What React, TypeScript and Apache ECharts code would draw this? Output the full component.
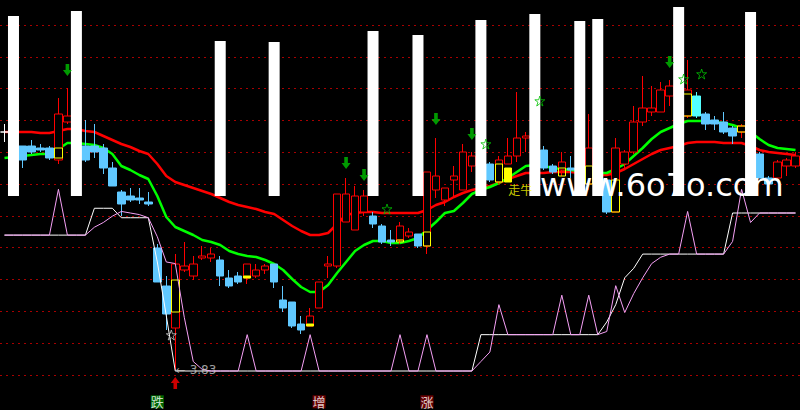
import React, { useEffect, useRef } from "react";
import * as echarts from "echarts";

// daily k-line: open, close, lowest, highest
const candles = [
  [5.02, 5.02, 4.97, 5.06], [4.98, 4.93, 4.92, 5.0], [4.95, 4.88, 4.84, 4.95], [4.95, 4.92, 4.91, 4.98],
  [4.94, 4.93, 4.92, 4.96], [4.94, 4.89, 4.88, 4.95], [4.88, 5.11, 4.86, 5.19], [5.07, 5.1, 5.06, 5.24],
  [5.09, 4.98, 4.96, 5.13], [4.95, 4.88, 4.87, 5.08], [4.95, 4.92, 4.89, 5.06], [4.94, 4.84, 4.81, 4.96],
  [4.84, 4.75, 4.75, 4.87], [4.72, 4.66, 4.6, 4.73], [4.7, 4.68, 4.67, 4.74], [4.69, 4.68, 4.66, 4.74],
  [4.67, 4.66, 4.65, 4.72], [4.44, 4.27, 4.27, 4.46], [4.25, 4.11, 4.03, 4.3], [4.04, 4.36, 3.83, 4.41],
  [4.33, 4.35, 4.32, 4.47], [4.3, 4.36, 4.28, 4.4], [4.39, 4.4, 4.38, 4.45], [4.39, 4.41, 4.37, 4.44],
  [4.38, 4.3, 4.25, 4.4], [4.29, 4.25, 4.24, 4.33], [4.3, 4.27, 4.26, 4.32], [4.29, 4.36, 4.26, 4.36],
  [4.3, 4.33, 4.29, 4.36], [4.33, 4.35, 4.31, 4.36], [4.36, 4.27, 4.24, 4.36], [4.18, 4.14, 4.12, 4.25],
  [4.17, 4.05, 4.04, 4.17], [4.06, 4.03, 4.01, 4.1], [4.05, 4.1, 4.05, 4.14], [4.14, 4.27, 4.14, 4.27],
  [4.35, 4.36, 4.29, 4.4], [4.35, 4.71, 4.34, 4.71], [4.57, 4.71, 4.57, 4.79], [4.53, 4.7, 4.53, 4.75],
  [4.62, 4.7, 4.6, 4.73], [4.6, 4.56, 4.54, 4.62], [4.55, 4.47, 4.46, 4.56], [4.48, 4.47, 4.45, 4.53],
  [4.48, 4.55, 4.46, 4.57], [4.5, 4.52, 4.49, 4.54], [4.51, 4.45, 4.44, 4.51], [4.45, 4.82, 4.41, 4.82],
  [4.73, 4.8, 4.69, 4.99], [4.68, 4.74, 4.65, 4.74], [4.78, 4.8, 4.69, 4.85], [4.73, 4.92, 4.73, 4.96],
  [4.85, 4.9, 4.82, 4.92], [4.83, 4.75, 4.73, 4.86], [4.86, 4.78, 4.77, 4.87], [4.77, 4.88, 4.76, 4.9],
  [4.86, 4.9, 4.86, 4.99], [4.9, 4.99, 4.87, 5.22], [4.99, 5.0, 4.92, 5.02], [4.93, 4.98, 4.92, 5.01],
  [4.93, 4.84, 4.83, 4.95], [4.85, 4.82, 4.81, 4.86], [4.83, 4.87, 4.8, 4.92], [4.84, 4.83, 4.79, 4.9],
  [4.88, 4.83, 4.8, 4.91], [4.76, 4.94, 4.73, 5.11], [4.88, 4.79, 4.75, 4.9], [4.78, 4.62, 4.61, 4.79],
  [4.62, 4.94, 4.62, 4.99], [4.86, 4.92, 4.83, 4.93], [4.92, 5.07, 4.91, 5.15], [5.07, 5.14, 5.05, 5.3],
  [5.12, 5.14, 5.1, 5.25], [5.12, 5.23, 5.12, 5.27], [5.2, 5.25, 5.15, 5.28], [5.21, 5.1, 5.08, 5.23],
  [5.1, 5.23, 5.09, 5.38], [5.2, 5.1, 5.09, 5.22], [5.11, 5.06, 5.03, 5.12], [5.08, 5.06, 5.03, 5.1],
  [5.07, 5.02, 5.01, 5.12], [5.04, 5.0, 4.96, 5.05], [5.02, 5.05, 4.99, 5.06], [5.0, 4.93, 4.9, 5.03],
  [4.91, 4.79, 4.79, 4.92], [4.79, 4.76, 4.73, 4.8], [4.79, 4.87, 4.78, 4.88], [4.85, 4.88, 4.8, 4.89],
  [4.85, 4.9, 4.84, 4.92],
];

const maSlow = [
  5.02, 5.02, 5.02, 5.02, 5.015, 5.015, 5.025, 5.035, 5.035, 5.025,
  5.02, 5.0, 4.98, 4.96, 4.945, 4.925, 4.91, 4.86, 4.8, 4.77,
  4.755, 4.74, 4.725, 4.71, 4.69, 4.67, 4.655, 4.645, 4.635, 4.62,
  4.61, 4.58, 4.55, 4.525, 4.505, 4.505, 4.515, 4.56, 4.605, 4.615,
  4.62, 4.62, 4.615, 4.615, 4.615, 4.615, 4.615, 4.63, 4.655, 4.67,
  4.695, 4.715, 4.73, 4.74, 4.75, 4.765, 4.785, 4.8, 4.815, 4.815,
  4.815, 4.82, 4.82, 4.82, 4.815, 4.81, 4.805, 4.805, 4.815, 4.835,
  4.86, 4.885, 4.91, 4.93, 4.94, 4.95, 4.965, 4.97, 4.97, 4.97,
  4.965, 4.965, 4.965, 4.95, 4.93, 4.92, 4.915, 4.91, 4.905,
];

const maFast = [
  4.89, 4.895, 4.9, 4.905, 4.91, 4.91, 4.935, 4.965, 4.965, 4.96,
  4.955, 4.94, 4.91, 4.85, 4.83, 4.805, 4.785, 4.7, 4.595, 4.545,
  4.525, 4.505, 4.48, 4.47, 4.455, 4.425, 4.41, 4.4, 4.395, 4.38,
  4.36, 4.33, 4.285, 4.245, 4.22, 4.22, 4.255, 4.315, 4.37, 4.425,
  4.455, 4.475, 4.475, 4.465, 4.465, 4.475, 4.49, 4.53, 4.57, 4.615,
  4.625, 4.665, 4.71, 4.73, 4.745, 4.765, 4.79, 4.82, 4.85, 4.855,
  4.85, 4.84, 4.835, 4.83, 4.825, 4.82, 4.815, 4.815, 4.835, 4.86,
  4.9, 4.94, 4.985, 5.02, 5.04, 5.06, 5.075, 5.075, 5.075, 5.07,
  5.065, 5.055, 5.04, 5.02, 4.985, 4.955, 4.94, 4.935, 4.93,
];

// lower indicator (0..100 scale)
const trendWhite = [
  86, 86, 86, 86, 86, 86, 86, 86, 86, 86,
  103, 103, 103, 97, 97, 97, 97, 69, 35, 0,
  0, 0, 0, 0, 0, 0, 0, 0, 0, 0,
  0, 0, 0, 0, 0, 0, 0, 0, 0, 0,
  0, 0, 0, 0, 0, 0, 0, 0, 0, 0,
  0, 0, 0, 23, 23, 23, 23, 23, 23, 23,
  23, 23, 23, 23, 23, 23, 23, 31, 42, 59,
  65, 74, 74, 74, 74, 74, 74, 74, 74, 74,
  74, 100, 100, 100, 100, 100, 100, 100, 100,
];

const trendPink = [
  86, 86, 86, 86, 86, 86, 115, 86, 86, 86,
  91, 94, 98, 101, 100, 99, 97, 85, 69, 68,
  34, 6, 1, 0, 0, 0, 0, 23, 0, 0,
  0, 0, 0, 0, 23, 0, 0, 0, 0, 0,
  0, 0, 0, 0, 23, 0, 0, 23, 0, 0,
  0, 0, 0, 6, 12, 42, 23, 23, 23, 23,
  23, 23, 48, 23, 23, 48, 23, 25, 54, 37,
  49, 59, 68, 72, 74, 74, 101, 74, 74, 74,
  74, 82, 115, 94, 100, 100, 100, 100, 100,
];

const barDays = [1, 8, 24, 30, 41, 46, 53, 59, 64, 66, 75, 83];
const barHeights = [94.7, 97.4, 81.6, 81.1, 86.8, 84.7, 92.6, 95.8, 92.1, 93.2, 99.5, 96.8];

const boxDays = [6, 19, 27, 34, 44, 47, 55, 56, 62, 65, 68, 76, 82];
const boxLow = [4.89, 4.12, 4.29, 4.05, 4.47, 4.45, 4.77, 4.77, 4.8, 4.76, 4.62, 5.1, 5.02];
const boxHigh = [4.94, 4.28, 4.3, 4.06, 4.48, 4.52, 4.86, 4.84, 4.84, 4.85, 4.78, 5.21, 5.05];
const solidBoxDays = [27, 34, 56];

const sellDays = [7, 38, 40, 48, 52, 74];
const sellLevel = [5.33, 4.865, 4.805, 5.085, 5.01, 5.37];
const buyDays = [19];
const buyLevel = [3.765];

const starDays = [18, 42, 53, 59, 75, 77];
const starLevel = [4.005, 4.635, 4.96, 5.175, 5.285, 5.31];

const signalDays = [17, 35, 47];
const signalText = ["跌", "增", "涨"];
const signalLevel = 3.671;

const brightDays = [77];
const lowDay = 19;
const lowPrice = 3.83;
const bullDay = 56;
const bullLevel = 4.735;
const bullText = "走牛";

const days = candles.map((_, i) => `D${i + 1}`);

const arrowPath = "path://M3,0L7,0L7,6L10,6L5,12L0,6L3,6Z";
const starPath =
  "path://M5,0L6.2,3.6L10,3.6L6.9,5.9L8.1,9.5L5,7.3L1.9,9.5L3.1,5.9L0,3.6L3.8,3.6Z";

const App: React.FC = () => {
  const chartRef = useRef<HTMLDivElement>(null);

  useEffect(() => {
    if (!chartRef.current) return;
    document.body.style.background = "#000";
    const chart = echarts.init(chartRef.current, null, { renderer: "svg" });

    const option = {
      animation: false,
      backgroundColor: "#000",
      textStyle: { fontFamily: "DejaVu Sans" },
      grid: [
        { left: 0, right: 0, top: 25, bottom: 35 },
        { left: -2, right: -2, top: 0, bottom: 0 },
      ],
      xAxis: [
        { gridIndex: 0, type: "value", min: 0, max: 1, show: false },
        { gridIndex: 1, type: "category", data: days, show: false },
      ],
      yAxis: [
        {
          gridIndex: 0,
          type: "value",
          min: 0,
          max: 11,
          interval: 1,
          axisLine: { show: false },
          axisTick: { show: false },
          axisLabel: { show: false },
          splitLine: { show: true, lineStyle: { color: "#a80000", type: [2, 4], width: 1 } },
        },
        { gridIndex: 1, type: "value", min: 3.63, max: 5.68, show: false },
        { gridIndex: 1, type: "value", min: -24.68, max: 234.81, show: false },
        { gridIndex: 1, type: "value", min: -112.63, max: 103.16, show: false },
      ],
      graphic: [
        {
          type: "text",
          x: 540,
          y: 185,
          z: 100,
          style: {
            text: "www.6o7o.com",
            fill: "#fff",
            fontSize: 32,
            fontFamily: "DejaVu Sans",
            verticalAlign: "middle",
          },
        },
      ],
      series: [
        {
          name: "MA slow",
          type: "line",
          xAxisIndex: 1,
          yAxisIndex: 1,
          data: maSlow,
          symbol: "none",
          lineStyle: { color: "#ff0000", width: 2.5 },
          z: 2,
        },
        {
          name: "MA fast",
          type: "line",
          xAxisIndex: 1,
          yAxisIndex: 1,
          data: maFast,
          symbol: "none",
          lineStyle: { color: "#00ff00", width: 2.5 },
          z: 2,
        },
        {
          name: "K",
          type: "candlestick",
          xAxisIndex: 1,
          yAxisIndex: 1,
          barWidth: 8,
          data: candles.map((c, i) =>
            brightDays.includes(i)
              ? { value: c, itemStyle: { color0: "#54ffff", borderColor0: "#54ffff" } }
              : c
          ),
          itemStyle: {
            color: "#000",
            color0: "#60c8ff",
            borderColor: "#ff0000",
            borderColor0: "#60c8ff",
            borderColorDoji: "#ffffff",
            borderWidth: 1,
          },
          z: 3,
        },
        {
          name: "box",
          type: "candlestick",
          xAxisIndex: 1,
          yAxisIndex: 1,
          barWidth: 8,
          encode: { x: 0, y: [1, 2, 3, 4] },
          data: boxDays.map((d, i) => {
            const v = [d, boxLow[i], boxHigh[i], boxLow[i], boxHigh[i]];
            return solidBoxDays.includes(d) ? { value: v, itemStyle: { color: "#ffff00" } } : v;
          }),
          itemStyle: {
            color: "rgba(0,0,0,0)",
            borderColor: "#ffff00",
            color0: "rgba(0,0,0,0)",
            borderColor0: "#ffff00",
            borderWidth: 1,
          },
          z: 4,
        },
        {
          name: "trend",
          type: "line",
          xAxisIndex: 1,
          yAxisIndex: 2,
          data: trendWhite,
          symbol: "none",
          lineStyle: { color: "#ffffff", width: 1 },
          z: 5,
        },
        {
          name: "trend2",
          type: "line",
          xAxisIndex: 1,
          yAxisIndex: 2,
          data: trendPink,
          symbol: "none",
          lineStyle: { color: "#f5a0f5", width: 1 },
          z: 5,
        },
        {
          name: "signal bar",
          type: "bar",
          xAxisIndex: 1,
          yAxisIndex: 3,
          barWidth: 11,
          data: barDays.map((d, i) => [d, barHeights[i]]),
          itemStyle: { color: "#ffffff" },
          z: 6,
        },
        {
          name: "sell",
          type: "scatter",
          xAxisIndex: 1,
          yAxisIndex: 1,
          symbol: arrowPath,
          symbolSize: [9, 12],
          data: sellDays.map((d, i) => [d, sellLevel[i]]),
          itemStyle: { color: "#00c000" },
          z: 7,
        },
        {
          name: "buy",
          type: "scatter",
          xAxisIndex: 1,
          yAxisIndex: 1,
          symbol: arrowPath,
          symbolRotate: 180,
          symbolSize: [9, 12],
          data: buyDays.map((d, i) => [d, buyLevel[i]]),
          itemStyle: { color: "#ff0000" },
          z: 7,
        },
        {
          name: "star",
          type: "scatter",
          xAxisIndex: 1,
          yAxisIndex: 1,
          symbol: starPath,
          symbolSize: 10,
          symbolOffset: [5, 0],
          data: starDays.map((d, i) =>
            i === 0
              ? { value: [d, starLevel[i]], itemStyle: { borderColor: "#c8c8c8" } }
              : [d, starLevel[i]]
          ),
          itemStyle: { color: "rgba(0,0,0,0)", borderColor: "#00c000", borderWidth: 1 },
          z: 8,
        },
        {
          name: "text",
          type: "scatter",
          xAxisIndex: 1,
          yAxisIndex: 1,
          symbolSize: 1,
          itemStyle: { color: "rgba(0,0,0,0)" },
          data: [
            {
              value: [lowDay, lowPrice],
              label: {
                show: true,
                formatter: `← ${lowPrice.toFixed(2)}`,
                position: "right",
                distance: 0,
                color: "#c8c8c8",
                fontSize: 12,
                fontFamily: "DejaVu Sans",
              },
            },
            {
              value: [bullDay, bullLevel],
              label: {
                show: true,
                formatter: bullText,
                position: "right",
                distance: 0,
                color: "#ffff00",
                fontSize: 12,
                fontFamily: "Noto Sans CJK SC",
              },
            },
            ...signalDays.map((d, i) => ({
              value: [d, signalLevel],
              label: {
                show: true,
                formatter: signalText[i],
                position: "inside",
                color: "#ffffff",
                fontSize: 13,
                lineHeight: 13,
                fontFamily: "Noto Sans CJK SC",
                backgroundColor: i === 0 ? "#008000" : "#800000",
              },
            })),
          ],
          z: 9,
        },
      ],
    };

    chart.setOption(option as any);
    return () => {
      chart.dispose();
    };
  }, []);

  return (
    <div
      ref={chartRef}
      style={{ position: "fixed", left: 0, top: 0, width: 800, height: 410, background: "#000" }}
    />
  );
};

export default App;
